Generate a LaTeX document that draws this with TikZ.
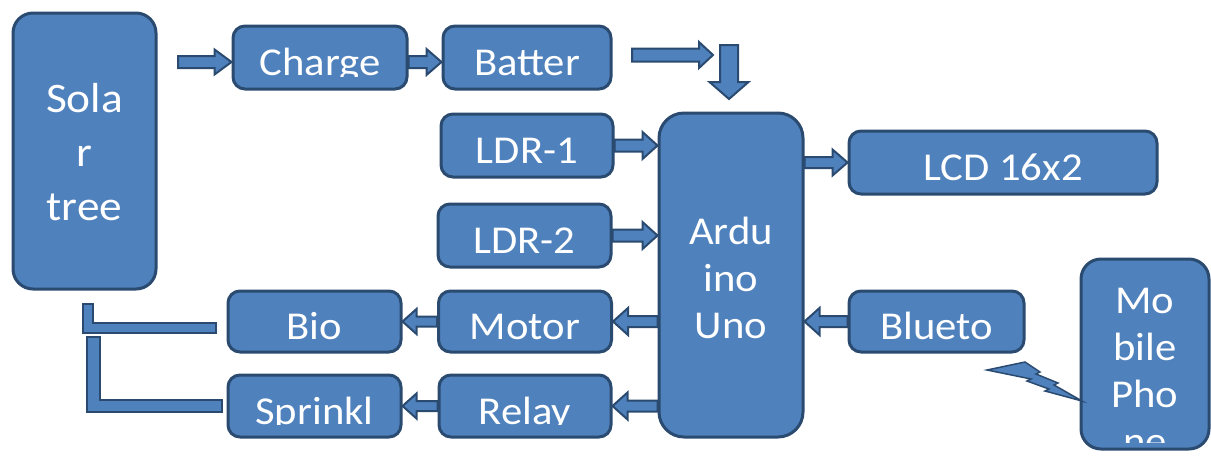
\documentclass[tikz,border=0pt]{standalone}
\usepackage{fontspec}
\setmainfont{Carlito}[FakeStretch=1.08]
\usetikzlibrary{calc}
\definecolor{boxblue}{HTML}{4F81BD}
\definecolor{boxline}{HTML}{2A4A70}
\tikzset{
  blk/.style={draw=boxline, fill=boxblue, line width=3pt, rounded corners=12pt, inner sep=0pt},
  txt/.style={text=white, inner sep=0pt, align=center, font=\fontsize{39.5}{47}\selectfont},
  lbl/.style n args={4}{path picture={
      \clip[sharp corners] (path picture bounding box.north west) rectangle ([yshift=#3]path picture bounding box.south east);
      \node[txt, anchor=base, #4] at ([yshift=#2]path picture bounding box.center) {#1};}},
  blockarrow/.style={draw=boxline, fill=boxblue, line width=2pt, line join=miter},
  pipe/.style={draw=boxline, fill=boxblue, line width=2.5pt, line join=miter},
}
% block arrow: start, end, shaft half width, head half width, head length
\newcommand{\blockarr}[5]{%
  \coordinate (as) at (#1);
  \coordinate (ae) at (#2);
  \coordinate (ah) at ($(ae)!#5!(as)$);
  \filldraw[blockarrow] ($(as)!#3!90:(ae)$) -- ($(ah)!#3!90:(ae)$) -- ($(ah)!#4!90:(ae)$) -- (ae)
    -- ($(ah)!#4!-90:(ae)$) -- ($(ah)!#3!-90:(ae)$) -- ($(as)!#3!-90:(ae)$) -- cycle;}
\begin{document}
\begin{tikzpicture}[x=1pt,y=-1pt]
  \useasboundingbox (0,0) rectangle (1211,459);
  % boxes
  \node[blk, rounded corners=20pt, minimum width=143pt, minimum height=276pt,
    lbl={Sola\\r\\tree}{-69pt}{0pt}{font=\fontsize{42}{54}\selectfont}] (solar) at (84.5,151) {};
  \node[blk, minimum width=174pt, minimum height=63pt, lbl={Charge}{-18pt}{13pt}{}] (charge) at (320,57.5) {};
  \node[blk, minimum width=168pt, minimum height=63pt, lbl={Batter}{-18pt}{13pt}{}] (batter) at (527,57.5) {};
  \node[blk, minimum width=172pt, minimum height=63pt, lbl={LDR-1}{-18pt}{13pt}{}] (ldr1) at (527,145.5) {};
  \node[blk, minimum width=173pt, minimum height=63pt, lbl={LDR-2}{-18pt}{13pt}{}] (ldr2) at (524.5,235.5) {};
  \node[blk, rounded corners=25pt, minimum width=144pt, minimum height=324pt,
    lbl={Ardu\\ino\\Uno}{-63pt}{0pt}{}] (ardu) at (731,275) {};
  \node[blk, minimum width=308pt, minimum height=63pt, lbl={LCD 16x2}{-18pt}{13pt}{}] (lcd) at (1003,162.5) {};
  \node[blk, minimum width=175pt, minimum height=61pt, lbl={Blueto}{-18pt}{13pt}{}] (blueto) at (936.5,321.5) {};
  \node[blk, rounded corners=20pt, minimum width=128pt, minimum height=190pt,
    lbl={Mo\\bile\\Pho\\ne}{-100pt}{7pt}{}] (mobile) at (1145,354) {};
  \node[blk, minimum width=173pt, minimum height=61pt, lbl={Motor}{-18pt}{13pt}{}] (motor) at (525,321.5) {};
  \node[blk, minimum width=172pt, minimum height=62pt, lbl={Relay}{-18pt}{13pt}{}] (relay) at (525,406) {};
  \node[blk, minimum width=173pt, minimum height=61pt, lbl={Bio}{-18pt}{13pt}{}] (bio) at (314.5,321.5) {};
  \node[blk, minimum width=173pt, minimum height=62pt, lbl={Sprinkl}{-18pt}{13pt}{}] (sprinkl) at (314.5,406) {};
  % free ends
  \coordinate (sunout) at (178,62);
  \coordinate (batout) at (632,55);
  \coordinate (batend) at (713,55);
  \coordinate (downtop) at (729,45);
  \coordinate (downtip) at (729,99);
  % arrows
  \blockarr{sunout}{sunout -| charge.west}{6pt}{12.5pt}{17pt}
  \blockarr{charge.east |- sunout}{batter.west |- sunout}{6pt}{13pt}{15pt}
  \blockarr{batout}{batend}{6.5pt}{13pt}{14pt}
  \blockarr{downtop}{downtip}{9pt}{19.5pt}{17pt}
  \blockarr{ldr1.east}{ldr1.east -| ardu.west}{6pt}{13.5pt}{15pt}
  \blockarr{ldr2.east}{ldr2.east -| ardu.west}{6pt}{13.5pt}{15pt}
  \blockarr{lcd.west -| ardu.east}{lcd.west}{5.5pt}{13pt}{15pt}
  \blockarr{blueto.west}{blueto.west -| ardu.east}{5.5pt}{13.5pt}{15pt}
  \blockarr{motor.east -| ardu.west}{motor.east}{5.5pt}{13.5pt}{15pt}
  \blockarr{relay.east -| ardu.west}{relay.east}{5.5pt}{13.5pt}{15pt}
  \blockarr{motor.west}{bio.east}{5pt}{12.5pt}{14pt}
  \blockarr{relay.west}{sprinkl.east}{5pt}{12.5pt}{14pt}
  % return pipes to the solar tree
  \filldraw[pipe] (83,304) -- (93,304) -- (93,323) -- (216,323) -- (216,333) -- (83,333) -- cycle;
  \filldraw[pipe] (87,337) -- (100,337) -- (100,400) -- (222,400) -- (222,412) -- (87,412) -- cycle;
  % wireless link
  \filldraw[draw=boxline, fill=boxblue, line width=1.5pt, line join=miter]
    (987,370) -- (1025,362) -- (1040,372) -- (1036,374) -- (1058,383) -- (1054,385) -- (1082,401)
    -- (1045,391) -- (1049,389) -- (1027,381) -- (1031,379) -- cycle;
\end{tikzpicture}
\end{document}
